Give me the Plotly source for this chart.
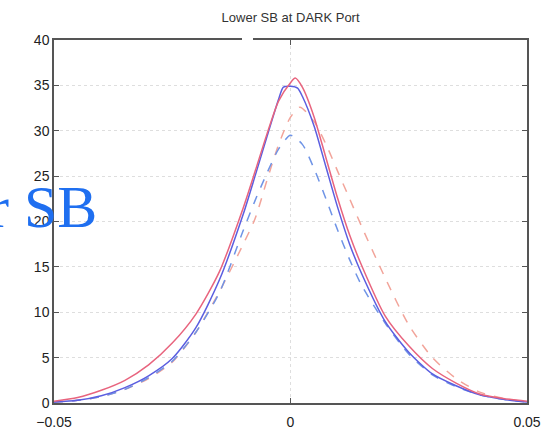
import plotly.graph_objects as go

title_text = "Lower SB at DARK Port"
stray_text = "r SB"

x_solid_red = [-0.05, -0.045, -0.04, -0.035, -0.03, -0.025, -0.02, -0.015, -0.01, -0.0075, -0.005, -0.0025, 0.0, 0.001, 0.0025, 0.005, 0.0075, 0.01, 0.0125, 0.015, 0.02, 0.025, 0.03, 0.035, 0.04, 0.045, 0.05]
y_solid_red = [0.2, 0.6, 1.4, 2.5, 4.2, 6.6, 9.8, 14.5, 21.5, 25.5, 29.6, 33.3, 35.3, 35.8, 34.8, 31.5, 27.0, 22.5, 18.5, 15.2, 9.6, 6.3, 3.8, 2.2, 1.0, 0.5, 0.2]

x_solid_blue = [-0.05, -0.045, -0.04, -0.035, -0.03, -0.025, -0.02, -0.015, -0.01, -0.0075, -0.005, -0.0025, -0.0015, 0.0, 0.0015, 0.0025, 0.005, 0.0075, 0.01, 0.0125, 0.015, 0.02, 0.025, 0.03, 0.035, 0.04, 0.045, 0.05]
y_solid_blue = [0.1, 0.3, 0.8, 1.7, 3.0, 4.9, 8.3, 13.6, 20.8, 25.0, 29.3, 33.5, 34.8, 34.9, 34.7, 33.8, 30.5, 26.0, 21.5, 17.5, 14.3, 9.0, 5.6, 3.2, 1.9, 0.9, 0.4, 0.1]

x_dash_red = [-0.05, -0.045, -0.04, -0.035, -0.03, -0.025, -0.02, -0.015, -0.01, -0.0075, -0.005, -0.0025, 0.0, 0.002, 0.005, 0.0075, 0.01, 0.0125, 0.015, 0.02, 0.025, 0.03, 0.035, 0.04, 0.045, 0.05]
y_dash_red = [0.1, 0.3, 0.7, 1.5, 2.7, 4.5, 7.8, 12.3, 17.5, 20.3, 24.5, 28.5, 31.5, 32.6, 31.0, 28.5, 25.5, 22.5, 19.5, 13.8, 8.6, 5.0, 2.7, 1.2, 0.5, 0.1]

x_dash_blue = [-0.05, -0.045, -0.04, -0.035, -0.03, -0.025, -0.02, -0.015, -0.01, -0.0075, -0.005, -0.0025, 0.0, 0.0025, 0.005, 0.0075, 0.01, 0.0125, 0.015, 0.02, 0.025, 0.03, 0.035, 0.04, 0.045, 0.05]
y_dash_blue = [0.1, 0.3, 0.7, 1.5, 2.8, 4.6, 7.8, 12.2, 19.0, 22.3, 25.3, 28.0, 29.5, 28.5, 25.8, 22.5, 19.0, 15.8, 13.0, 8.8, 5.4, 3.1, 1.8, 0.9, 0.4, 0.1]

x_ticks = [-0.05, 0, 0.05]
x_tick_labels = ["\u22120.05", "0", "0.05"]
y_ticks = [0, 5, 10, 15, 20, 25, 30, 35, 40]

fig = go.Figure()
series = [
    (x_dash_red, y_dash_red, "#f2a49a", "dash"),
    (x_dash_blue, y_dash_blue, "#6f94e6", "dash"),
    (x_solid_blue, y_solid_blue, "#5b5ee0", "solid"),
    (x_solid_red, y_solid_red, "#e8647e", "solid"),
]
for xs, ys, col, dash in series:
    fig.add_trace(go.Scatter(x=xs, y=ys, mode="lines",
                             line=dict(color=col, width=1.5, dash=dash, shape="spline", smoothing=0.7),
                             showlegend=False, hoverinfo="skip"))

axis_common = dict(showline=True, linecolor="#555555", linewidth=1.5, mirror="ticks",
                   ticks="inside", ticklen=5, tickcolor="#555555", tickwidth=1,
                   showgrid=True, gridcolor="#dedede", griddash="dot", gridwidth=1,
                   zeroline=False, automargin=False,
                   tickfont=dict(family="Liberation Sans, Arial", size=14, color="#222222"))

fig.update_xaxes(range=[-0.05, 0.05], tickvals=x_ticks, ticktext=x_tick_labels,
                 ticklabelstandoff=5, **axis_common)
fig.update_yaxes(range=[0, 40], tickvals=y_ticks, **axis_common)

fig.update_layout(
    width=554, height=430,
    margin=dict(l=54, r=27, t=40, b=27),
    paper_bgcolor="white", plot_bgcolor="white",
    title=dict(text=title_text, x=0.5245, xanchor="center", y=0.96, yanchor="middle",
               font=dict(family="Liberation Sans, Arial", size=13, color="#333333")),
    shapes=[dict(type="line", xref="paper", yref="paper", x0=(242 - 54) / 473, x1=(253 - 54) / 473,
                 y0=1, y1=1, line=dict(color="white", width=4), layer="above")],
    annotations=[dict(text=stray_text, xref="paper", yref="paper", x=(99 - 54) / 473, y=(403 - 207) / 363,
                      xanchor="right", yanchor="middle", showarrow=False,
                      font=dict(family="Liberation Serif, Times New Roman", size=60, color="#1f6ff0"))],
)

fig.write_html("out.html")
